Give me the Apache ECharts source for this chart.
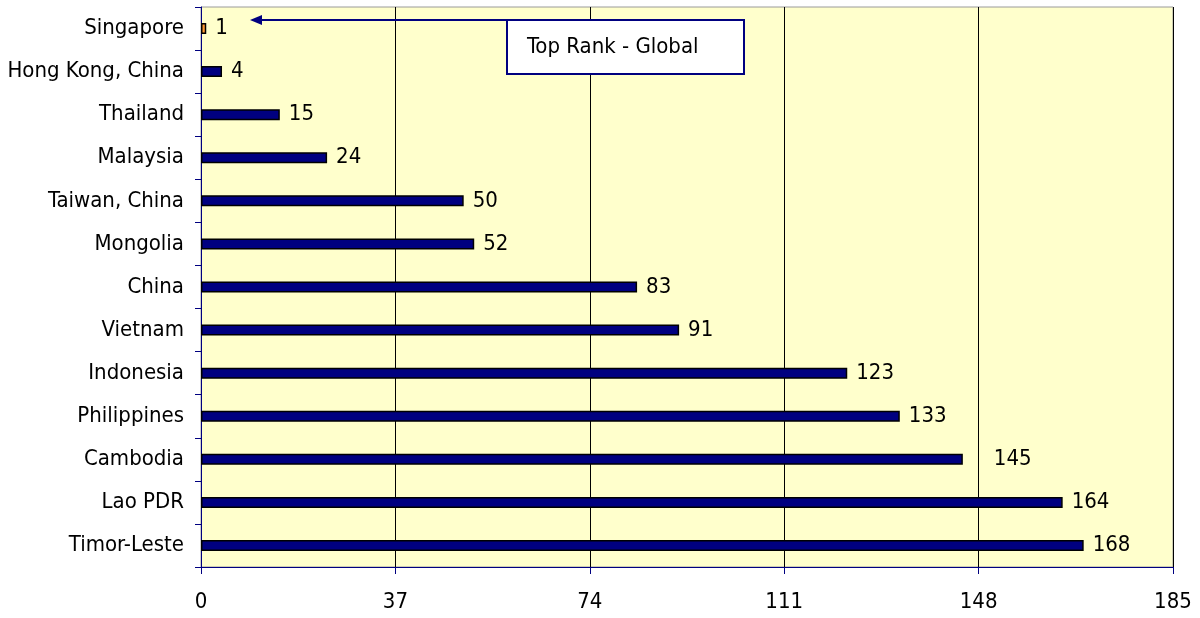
<!DOCTYPE html>
<html><head><meta charset="utf-8">
<script src="https://cdn.jsdelivr.net/npm/echarts@6/dist/echarts.min.js"></script>
<style>html,body{margin:0;padding:0;background:#fff}#c{width:1200px;height:618px}</style>
</head><body><div id="c"></div>
<script>
const categories = ["Singapore","Hong Kong, China","Thailand","Malaysia","Taiwan, China","Mongolia","China","Vietnam","Indonesia","Philippines","Cambodia","Lao PDR","Timor-Leste"];
const ranks = [1,4,15,24,50,52,83,91,123,133,145,164,168];
const xTicks = [0,37,74,111,148,185];
const annotationText = "Top Rank - Global";
const FONT = '"DejaVu Sans Condensed", "Liberation Sans", Arial, sans-serif';

const chart = echarts.init(document.getElementById('c'));
const data = ranks.map((v,i)=>({
  value: v,
  itemStyle: { color: i===0 ? '#FF9933' : '#000080' },
  label: i===10 ? { offset: [22,0] } : undefined
}));
chart.setOption({
  animation:false,
  grid:{left:201,right:27,top:7,bottom:51,show:true,backgroundColor:'#FFFFCC',borderColor:'#9a9a9a',borderWidth:1},
  xAxis:{type:'value',min:0,max:185,interval:37,
    axisLine:{show:true,onZero:false,lineStyle:{color:'#000080',width:1}},
    axisTick:{show:true,length:7,lineStyle:{color:'#000080'}},
    splitLine:{show:true,lineStyle:{color:'#000000',width:1}},
    axisLabel:{color:'#000',fontFamily:FONT,fontSize:22,margin:24,formatter:v=>xTicks.includes(v)?String(v):''}},
  yAxis:{type:'category',data:categories,inverse:true,
    axisLine:{show:true,lineStyle:{color:'#000080',width:1}},
    axisTick:{show:true,length:6,lineStyle:{color:'#000080'}},
    axisLabel:{color:'#000',fontFamily:FONT,fontSize:22,margin:17}},
  series:[{type:'bar',data:data,barWidth:11,
    itemStyle:{borderColor:'#000',borderWidth:1.5},
    label:{show:true,position:'right',distance:9,color:'#000',fontFamily:FONT,fontSize:22}}],
  graphic:[
    {type:'rect',shape:{x:507,y:20,width:237,height:54},style:{fill:'#fff',stroke:'#000080',lineWidth:2},z:100},
    {type:'text',x:527,y:47,style:{text:annotationText,fontFamily:FONT,fontSize:22,fill:'#000',verticalAlign:'middle'},z:101},
    {type:'line',shape:{x1:515,y1:20,x2:256,y2:20},style:{stroke:'#000080',lineWidth:2},z:99},
    {type:'polygon',shape:{points:[[250,20],[262,15],[262,25]]},style:{fill:'#000080'},z:99}
  ]
});
</script></body></html>
